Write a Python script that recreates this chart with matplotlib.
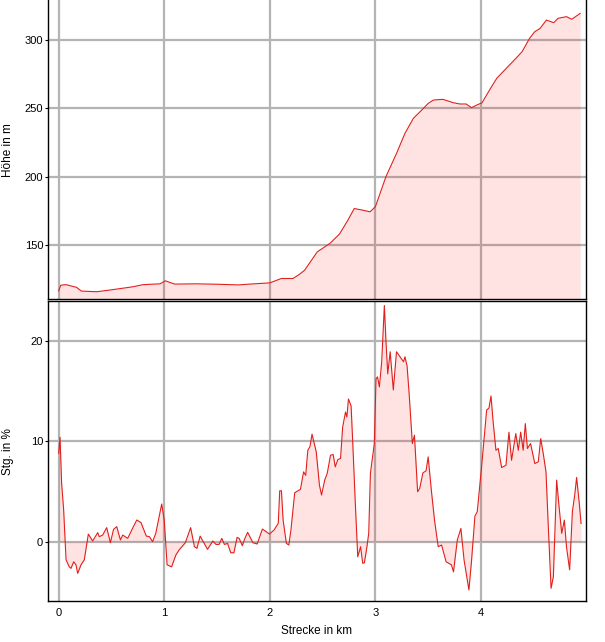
import matplotlib
matplotlib.use("Agg")
import matplotlib.pyplot as plt

# Höhenprofil (km, m)
km_elev = [0.00, 0.02, 0.07, 0.17, 0.215, 0.36, 0.48, 0.70, 0.80, 0.96, 1.01, 1.10,
           1.30, 1.50, 1.70, 1.81, 2.00, 2.11, 2.22, 2.28, 2.33, 2.45, 2.57, 2.66,
           2.74, 2.80, 2.88, 2.95, 3.00, 3.10, 3.20, 3.28, 3.36, 3.44, 3.50, 3.55,
           3.64, 3.74, 3.80, 3.86, 3.91, 3.96, 4.01, 4.10, 4.15, 4.24, 4.34, 4.39,
           4.46, 4.51, 4.56, 4.62, 4.69, 4.73, 4.81, 4.86, 4.94]
elev = [116.5, 120.6, 121.0, 119.0, 116.3, 115.8, 117.0, 119.4, 121.0, 121.6, 123.8, 121.4,
        121.6, 121.3, 120.8, 121.4, 122.3, 125.5, 125.5, 128.5, 131.6, 145.0, 151.2, 158.0,
        168.2, 176.7, 175.5, 174.3, 178.0, 200.0, 217.0, 231.7, 242.7, 248.8, 253.6, 256.1,
        256.6, 254.1, 253.2, 253.2, 250.5, 252.4, 254.1, 265.8, 272.0, 279.3, 287.3, 291.5,
        301.2, 306.1, 308.5, 314.6, 312.7, 315.9, 317.1, 315.2, 319.5]

# Steigung (km, %)
km_grad = [0.000, 0.013, 0.028, 0.047, 0.070, 0.100, 0.117, 0.142, 0.164, 0.180, 0.212, 0.243,
           0.281, 0.322, 0.370, 0.385, 0.417, 0.455, 0.490, 0.520, 0.550, 0.585, 0.607, 0.654,
           0.700, 0.740, 0.780, 0.830, 0.860, 0.890, 0.920, 0.976, 1.000, 1.027, 1.070, 1.110,
           1.140, 1.200, 1.250, 1.286, 1.310, 1.340, 1.370, 1.410, 1.460, 1.490, 1.520, 1.545,
           1.570, 1.600, 1.630, 1.660, 1.690, 1.710, 1.740, 1.760, 1.790, 1.840, 1.880, 1.930,
           1.997, 2.040, 2.080, 2.094, 2.110, 2.126, 2.157, 2.180, 2.200, 2.236, 2.267, 2.290,
           2.320, 2.340, 2.360, 2.380, 2.400, 2.440, 2.470, 2.490, 2.520, 2.544, 2.575, 2.600,
           2.620, 2.645, 2.670, 2.690, 2.717, 2.730, 2.745, 2.770, 2.786, 2.810, 2.833, 2.860,
           2.880, 2.896, 2.920, 2.937, 2.953, 2.975, 2.990, 3.006, 3.020, 3.038, 3.060, 3.085,
           3.100, 3.117, 3.140, 3.170, 3.200, 3.226, 3.240, 3.267, 3.280, 3.300, 3.320, 3.350,
           3.370, 3.400, 3.420, 3.450, 3.480, 3.500, 3.530, 3.560, 3.595, 3.627, 3.670, 3.720,
           3.740, 3.776, 3.810, 3.840, 3.886, 3.910, 3.943, 3.965, 4.006, 4.054, 4.076, 4.095,
           4.117, 4.142, 4.164, 4.196, 4.237, 4.265, 4.290, 4.330, 4.354, 4.376, 4.400, 4.420,
           4.440, 4.470, 4.510, 4.543, 4.566, 4.590, 4.616, 4.638, 4.664, 4.686, 4.717, 4.740,
           4.765, 4.790, 4.810, 4.840, 4.866, 4.890, 4.906, 4.930, 4.948]
grad = [8.8, 10.4, 5.8, 3.2, -1.8, -2.5, -2.65, -2.0, -2.3, -3.15, -2.3, -1.8,
        0.76, 0.07, 0.9, 0.5, 0.66, 1.4, -0.1, 1.23, 1.5, 0.17, 0.66, 0.33,
        1.33, 2.16, 1.9, 0.56, 0.5, 0.0, 0.83, 3.75, 2.16, -2.3, -2.5, -1.33,
        -0.83, -0.1, 1.4, -0.5, -0.66, 0.56, 0.0, -0.76, 0.07, -0.27, -0.27, 0.33,
        -0.27, -0.17, -1.1, -1.1, 0.43, 0.33, -0.4, 0.23, 0.93, -0.1, -0.23, 1.26,
        0.76, 1.16, 1.82, 5.07, 5.07, 2.15, -0.17, -0.33, 1.16, 4.87, 5.07, 5.2,
        6.95, 6.6, 9.1, 9.44, 10.7, 8.94, 5.63, 4.64, 6.13, 6.8, 8.6, 8.68,
        7.45, 8.18, 8.28, 11.4, 12.9, 12.4, 14.2, 13.5, 9.77, 3.8, -1.5, -0.5,
        -2.15, -2.1, -0.5, 0.83, 6.8, 8.6, 9.77, 16.2, 16.4, 15.4, 17.9, 23.5,
        20.0, 16.7, 18.9, 15.1, 18.9, 18.5, 18.3, 17.9, 18.4, 17.5, 14.7, 9.77,
        10.6, 4.97, 5.3, 6.85, 7.05, 8.44, 5.13, 2.15, -0.5, -0.33, -2.0, -2.3,
        -3.0, 0.17, 1.32, -1.82, -4.8, -2.0, 2.55, 2.98, 7.45, 13.1, 13.3, 14.5,
        11.75, 9.1, 9.27, 7.38, 7.6, 10.9, 8.1, 10.76, 9.1, 10.9, 9.1, 11.75,
        9.27, 9.77, 7.78, 7.95, 10.26, 8.77, 6.95, 1.49, -4.64, -3.48, 6.13, 3.48,
        0.83, 2.15, -0.5, -2.8, 2.98, 4.8, 6.39, 3.97, 1.82]

line_color = "#e0201c"
fill_color = (1.0, 0.0, 0.0, 0.11)
grid_color = "#b4b4b4"

plt.rcParams["font.family"] = ["Liberation Sans", "DejaVu Sans"]

fig = plt.figure(figsize=(6.05, 6.42), dpi=100)
ax1 = fig.add_axes([48 / 605, 1 - 299 / 642, 538 / 605, 299 / 642])
ax2 = fig.add_axes([48 / 605, 1 - 601 / 642, 538 / 605, 300 / 642])

for ax in (ax1, ax2):
    ax.set_axisbelow(True)
    ax.grid(True, color=grid_color, linewidth=1.6)
    ax.set_xlim(-0.101, 4.995)
    ax.set_xticks([0, 1, 2, 3, 4])
    ax.tick_params(axis="y", length=2.5, width=0.8, pad=1, labelsize=8)
    ax.tick_params(axis="x", length=0, pad=5, labelsize=8)
    for s in ax.spines.values():
        s.set_linewidth(1.0)

# Höhe
ax1.fill_between(km_elev, elev, 0, color=fill_color, linewidth=0)
ax1.plot(km_elev, elev, color=line_color, linewidth=0.8)
ax1.set_ylim(110.5, 329.3)
ax1.set_yticks([150, 200, 250, 300])
ax1.tick_params(axis="x", labelbottom=False)
ax1.spines["top"].set_visible(False)

# Steigung
ax2.fill_between(km_grad, grad, 0, color=fill_color, linewidth=0)
ax2.plot(km_grad, grad, color=line_color, linewidth=0.8)
ax2.set_ylim(-5.9, 23.95)
ax2.set_yticks([0, 10, 20])

fig.text(8 / 605, 1 - 150 / 642, "Höhe in m", rotation=90, ha="center", va="center", fontsize=8.5)
fig.text(8 / 605, 1 - 452 / 642, "Stg. in %", rotation=90, ha="center", va="center", fontsize=8.5)
fig.text(317 / 605, 1 - 631 / 642, "Strecke in km", ha="center", va="center", fontsize=8.5)

fig.savefig("out.png", dpi=100)
